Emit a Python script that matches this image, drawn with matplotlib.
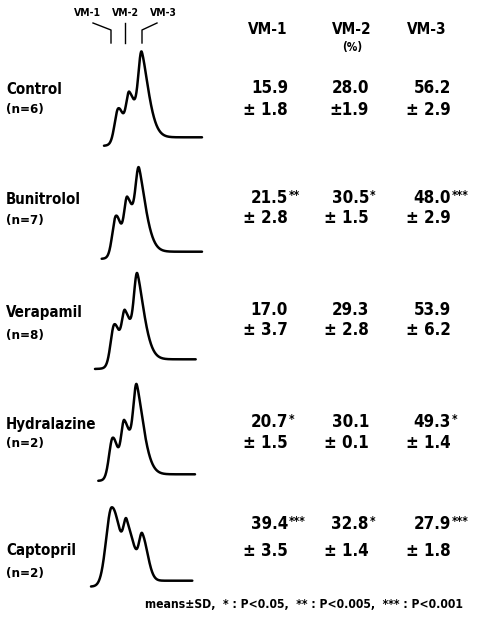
import numpy as np
import matplotlib
matplotlib.use("Agg")
import matplotlib.pyplot as plt
from matplotlib import font_manager
from matplotlib.lines import Line2D

# ---- fonts: prefer a narrow bold face ----------------------------------
ttf = font_manager.fontManager.ttflist
names = {f.name for f in ttf}
STRETCH = "normal"
if "Liberation Sans Narrow" in names:
    FAM = "Liberation Sans Narrow"
elif any(f.name == "DejaVu Sans" and f.stretch == "condensed" for f in ttf):
    FAM, STRETCH = "DejaVu Sans", "condensed"
elif "Roboto Condensed" in names:
    FAM = "Roboto Condensed"
elif "Liberation Sans" in names:
    FAM = "Liberation Sans"
else:
    FAM = "DejaVu Sans"
plt.rcParams["font.family"] = [FAM, "DejaVu Sans"]
plt.rcParams["font.weight"] = "bold"
plt.rcParams["font.stretch"] = STRETCH

# ---- data --------------------------------------------------------------
groups = ["Control", "Bunitrolol", "Verapamil", "Hydralazine", "Captopril"]
n_sizes = [6, 7, 8, 2, 2]
fractions = ["VM-1", "VM-2", "VM-3"]

vm1_mean = ["15.9", "21.5", "17.0", "20.7", "39.4"]
vm1_sd = ["± 1.8", "± 2.8", "± 3.7", "± 1.5", "± 3.5"]
vm1_sig = ["", "**", "", "*", "***"]

vm2_mean = ["28.0", "30.5", "29.3", "30.1", "32.8"]
vm2_sd = ["±1.9", "± 1.5", "± 2.8", "± 0.1", "± 1.4"]
vm2_sig = ["", "*", "", "", "*"]

vm3_mean = ["56.2", "48.0", "53.9", "49.3", "27.9"]
vm3_sd = ["± 2.9", "± 2.9", "± 6.2", "± 1.4", "± 1.8"]
vm3_sig = ["", "***", "", "*", "***"]

# densitometric scans: VM-1/VM-2/VM-3 peak mobility and apex density
peak_pos = [
    [33.3, 44.3, 56.7],
    [31.0, 42.3, 54.0],
    [29.3, 40.0, 52.3],
    [27.7, 39.3, 51.7],
    [26.7, 41.7, 57.3],
]
peak_apex = [
    [29.0, 45.6, 85.6],
    [36.0, 55.0, 84.0],
    [35.0, 49.3, 86.0],
    [36.6, 54.3, 90.0],
    [73.4, 61.4, 47.4],
]
scan_start = [19.0, 16.7, 10.0, 13.3, 6.0]
scan_end = [117.0, 117.0, 110.7, 110.0, 107.3]
start_level = [-8.7, -7.3, -9.7, -6.7, -6.0]

# ---- geometry ----------------------------------------------------------
W, H = 478, 619
fig = plt.figure(figsize=(W / 100, H / 100), dpi=100)


def fx(px):
    return px / W


def fy(py):
    return 1 - py / H


baseline_px = [137.3, 251.7, 359.3, 474.3, 580.7]
trace_left_px = 85
trace_width_px = 130
x_range = (0, 130)
y_range = (-15, 100)
row_name_y = [90, 199, 312, 425, 550]
row_n_y = [110, 220, 335, 443, 573]
row_mean_y = [88, 198, 310, 422, 524]
row_sd_y = [110, 218, 330, 443, 551]
col_right_px = [288, 369, 451]
col_head_px = [268, 352, 427]

# peak shapes: left gaussian sigma, right width and exponent
SHAPE_STD = dict(sl=[3.5, 3.0, 3.3], sr=[7.1, 9.0, 10.0], p=[2, 2, 1.6],
                 b_shift=4.0, b_w=3.0)
SHAPE_CAP = dict(sl=[5.5, 3.0, 3.0], sr=[12.3, 12.7, 7.9], p=[2, 2, 2],
                 b_shift=6.0, b_w=4.0)


def peak(x, c, sl, sr, p):
    x = np.asarray(x, float)
    d = x - c
    left = np.exp(-0.5 * (d / sl) ** 2)
    right = np.exp(-(np.abs(d) / sr) ** p)
    return np.where(d < 0, left, right)


def scan(i, x):
    c = np.array(peak_pos[i], float)
    sh = SHAPE_CAP if i == 4 else SHAPE_STD
    d0 = start_level[i]

    def base(xx):
        return d0 / (1 + np.exp((xx - (c[0] - sh["b_shift"])) / sh["b_w"]))

    K = np.array([[peak(cj, ck, sh["sl"][k], sh["sr"][k], sh["p"][k])
                   for k, ck in enumerate(c)] for cj in c])
    amp = np.linalg.solve(K, np.array(peak_apex[i], float) - base(c))
    y = base(x)
    for k in range(3):
        y = y + amp[k] * peak(x, c[k], sh["sl"][k], sh["sr"][k], sh["p"][k])
    return y


y_span = y_range[1] - y_range[0]
cols = [(vm1_mean, vm1_sd, vm1_sig), (vm2_mean, vm2_sd, vm2_sig),
        (vm3_mean, vm3_sd, vm3_sig)]
for i, g in enumerate(groups):
    bottom_px = baseline_px[i] - y_range[0]
    ax = fig.add_axes([fx(trace_left_px), fy(bottom_px),
                       fx(trace_width_px), y_span / H])
    x = np.linspace(scan_start[i], scan_end[i], 800)
    ax.plot(x, scan(i, x), color="black", lw=1.8, solid_capstyle="round")
    ax.set_xlim(*x_range)
    ax.set_ylim(*y_range)
    ax.axis("off")

    fig.text(fx(6), fy(row_name_y[i]), g, fontsize=10.8, fontweight="bold",
             ha="left", va="center")
    fig.text(fx(6), fy(row_n_y[i]), f"(n={n_sizes[i]})", fontsize=9.5,
             fontweight="bold", ha="left", va="center")

    for j, (m, s, sg) in enumerate(cols):
        xr = fx(col_right_px[j])
        fig.text(xr, fy(row_mean_y[i]), m[i], fontsize=12.2,
                 fontweight="bold", ha="right", va="center")
        if sg[i]:
            fig.text(xr + fx(1), fy(row_mean_y[i] - 3), sg[i], fontsize=8.5,
                     fontweight="bold", ha="left", va="center")
        fig.text(xr, fy(row_sd_y[i]), s[i], fontsize=12.2,
                 fontweight="bold", ha="right", va="center")

# column headers
for j, f in enumerate(fractions):
    fig.text(fx(col_head_px[j]), fy(30), f, fontsize=11, fontweight="bold",
             ha="center", va="center")
fig.text(fx(col_head_px[1]), fy(47), "(%)", fontsize=8.5, fontweight="bold",
         ha="center", va="center")

# fraction markers above the control scan
mark_x = [87, 125, 163]
for j, f in enumerate(fractions):
    fig.text(fx(mark_x[j]), fy(13), f, fontsize=7.5, fontweight="bold",
             ha="center", va="center")
leaders = [
    [(93, 23), (111, 30), (111, 43)],
    [(125, 23), (125, 43)],
    [(157, 23), (142, 30), (142, 43)],
]
for pts in leaders:
    fig.add_artist(Line2D([fx(p[0]) for p in pts], [fy(p[1]) for p in pts],
                          color="black", lw=1.0, transform=fig.transFigure))

fig.text(fx(145), fy(605),
         "means±SD,  * : P<0.05,  ** : P<0.005,  *** : P<0.001",
         fontsize=8.7, fontweight="bold", ha="left", va="center")

fig.savefig("out.png", dpi=100, facecolor="white")
